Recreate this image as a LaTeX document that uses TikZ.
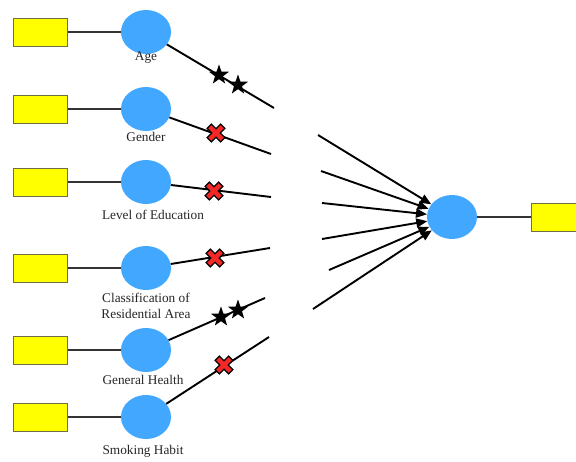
\documentclass[tikz,border=0pt]{standalone}
\usepackage{fontspec}
\setmainfont{Liberation Serif}
\usetikzlibrary{shapes.geometric,arrows.meta}
\definecolor{cblue}{RGB}{66,168,255}
\definecolor{ryel}{RGB}{255,255,0}
\definecolor{rbord}{RGB}{110,110,70}
\definecolor{xred}{RGB}{245,40,40}
\tikzset{
  varbox/.style={draw=rbord,fill=ryel,line width=1pt,minimum width=54pt,minimum height=28pt,inner sep=0pt},
  latent/.style={ellipse,fill=cblue,draw=none,minimum width=50pt,minimum height=44pt,inner sep=0pt},
  lbl/.style={font=\fontsize{13.3}{15.5}\selectfont,text=black!85,align=center,inner sep=0pt},
  thin link/.style={draw=black!80,line width=1.3pt},
  path link/.style={draw=black,line width=1.9pt},
  arr/.style={draw=black,line width=1.9pt,-{Triangle[length=11pt,width=9pt]}},
  starmark/.style={star,star points=5,star point ratio=2.5,fill=black,draw=none,minimum size=21pt,inner sep=0pt},
  xmark/.pic={\draw[fill=xred,draw=black,line width=1.3pt,rotate=45]
    (-3,-9.5)--(3,-9.5)--(3,-3)--(9.5,-3)--(9.5,3)--(3,3)--(3,9.5)--(-3,9.5)--(-3,3)--(-9.5,3)--(-9.5,-3)--(-3,-3)--cycle;}
}
\begin{document}
\begin{tikzpicture}[x=1pt,y=-1pt]
\clip (0,0) rectangle (576,461);
\fill[white] (0,0) rectangle (576,461);
% left boxes
\node[varbox] (b1) at (40,32) {};
\node[varbox] (b2) at (40,109) {};
\node[varbox] (b3) at (40,182) {};
\node[varbox] (b4) at (40,268) {};
\node[varbox] (b5) at (40,350) {};
\node[varbox] (b6) at (40,417) {};
% circles
\node[latent] (c1) at (146,32) {};
\node[latent] (c2) at (146,109) {};
\node[latent] (c3) at (146,182) {};
\node[latent] (c4) at (146,268) {};
\node[latent] (c5) at (146,350) {};
\node[latent] (c6) at (146,417) {};
% labels
\node[lbl] (l1) at (146,58) {Age};
\node[lbl] (l2) at (146,137) {Gender};
\node[lbl] (l3) at (153,215) {Level of Education};
\node[lbl] (l4) at (146,306) {Classification of\\Residential Area};
\node[lbl] (l5) at (143,380) {General Health};
\node[lbl] (l6) at (143,451) {Smoking Habit};
% box-circle links
\foreach \i in {1,...,6} {\draw[thin link] (b\i.east) -- (c\i.west);}
% path ends
\coordinate (e1) at (274,108);
\coordinate (e2) at (271,154);
\coordinate (e3) at (271,197);
\coordinate (e4) at (270,248);
\coordinate (e5) at (265,298);
\coordinate (e6) at (269,337);
\draw[path link] (c1) -- (e1);
\draw[path link] (c2) -- (e2);
\draw[path link] (c3) -- (e3);
\draw[path link] (c4) -- (e4);
\draw[path link] (c5) -- (e5);
\draw[path link] (c6) -- (e6);
% marks
\node[starmark] (s1) at (219,75) {};
\node[starmark] (s2) at (238,85) {};
\node[starmark] (s3) at (221,317) {};
\node[starmark] (s4) at (238,310) {};
\pic at (216,133) {xmark};
\pic at (214,191) {xmark};
\pic at (215,258) {xmark};
\pic at (224,365) {xmark};
% right side
\node[latent] (rc) at (452,217) {};
\node[varbox,minimum width=60pt] (rb) at (561,217) {};
\draw[thin link] (rc.east) -- (rb.west);
\coordinate (a1) at (318,135);
\coordinate (a2) at (321,171);
\coordinate (a3) at (322,203);
\coordinate (a4) at (322,239);
\coordinate (a5) at (329,270);
\coordinate (a6) at (313,309);
\foreach \i in {1,...,6} {\draw[arr] (a\i) -- (rc);}
\end{tikzpicture}
\end{document}
